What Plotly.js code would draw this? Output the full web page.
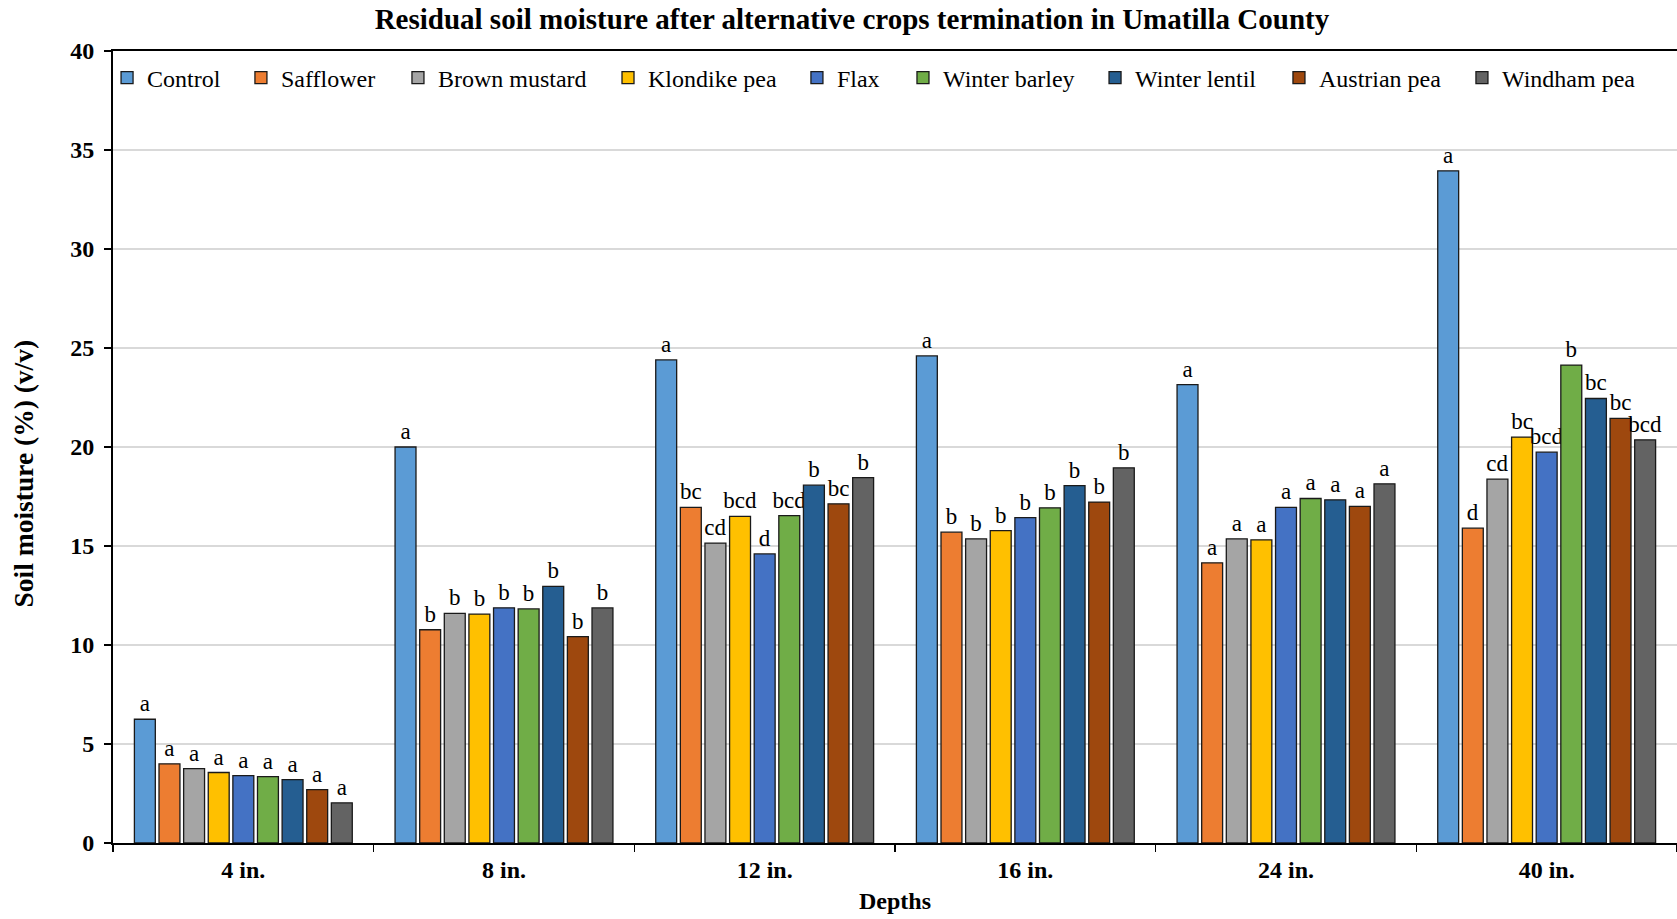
<!DOCTYPE html>
<html>
<head>
<meta charset="utf-8">
<script src="https://cdn.plot.ly/plotly-3.0.1.min.js"></script>
<style>html,body{margin:0;padding:0;background:#fff;}#chart{width:1677px;height:919px;}</style>
</head>
<body>
<div id="chart"></div>
<script>
const depths = ["4 in.", "8 in.", "12 in.", "16 in.", "24 in.", "40 in."];
const crops = ["Control", "Safflower", "Brown mustard", "Klondike pea", "Flax", "Winter barley", "Winter lentil", "Austrian pea", "Windham pea"];
const colors = ["#5B9BD5", "#ED7D31", "#A5A5A5", "#FFC000", "#4472C4", "#70AD47", "#255E91", "#9E480E", "#636363"];

const control      = [6.25, 20.0, 24.4, 24.6, 23.15, 33.95];
const safflower    = [4.0, 10.77, 16.95, 15.7, 14.15, 15.9];
const brownMustard = [3.76, 11.6, 15.15, 15.36, 15.36, 18.38];
const klondikePea  = [3.56, 11.56, 16.5, 15.78, 15.31, 20.5];
const flax         = [3.4, 11.88, 14.6, 16.43, 16.95, 19.74];
const winterBarley = [3.35, 11.82, 16.53, 16.93, 17.4, 24.14];
const winterLentil = [3.2, 12.96, 18.07, 18.05, 17.33, 22.45];
const austrianPea  = [2.7, 10.42, 17.13, 17.22, 17.0, 21.45];
const windhamPea   = [2.03, 11.87, 18.45, 18.95, 18.14, 20.36];

const controlLetters      = ["a", "a", "a", "a", "a", "a"];
const safflowerLetters    = ["a", "b", "bc", "b", "a", "d"];
const brownMustardLetters = ["a", "b", "cd", "b", "a", "cd"];
const klondikePeaLetters  = ["a", "b", "bcd", "b", "a", "bc"];
const flaxLetters         = ["a", "b", "d", "b", "a", "bcd"];
const winterBarleyLetters = ["a", "b", "bcd", "b", "a", "b"];
const winterLentilLetters = ["a", "b", "b", "b", "a", "bc"];
const austrianPeaLetters  = ["a", "b", "bc", "b", "a", "bc"];
const windhamPeaLetters   = ["a", "b", "b", "b", "a", "bcd"];

const values = [control, safflower, brownMustard, klondikePea, flax, winterBarley, winterLentil, austrianPea, windhamPea];
const letters = [controlLetters, safflowerLetters, brownMustardLetters, klondikePeaLetters, flaxLetters, winterBarleyLetters, winterLentilLetters, austrianPeaLetters, windhamPeaLetters];

// horizontal placement of each legend entry (paper fraction)
const legendX = [-0.0038, 0.0818, 0.1822, 0.3165, 0.4373, 0.5051, 0.6279, 0.7455, 0.8625];

const FONT = "Liberation Serif, Times New Roman, serif";

const traces = crops.map((name, i) => ({
  type: "bar",
  name: name,
  x: depths,
  y: values[i],
  text: letters[i],
  textposition: "outside",
  constraintext: "none",
  cliponaxis: false,
  textfont: {family: FONT, size: 23, color: "#000"},
  marker: {color: colors[i], line: {color: "#1a1a1a", width: 1.3}},
  legend: i === 0 ? "legend" : "legend" + (i + 1),
  hoverinfo: "skip"
}));

const layout = {
  width: 1677, height: 919,
  paper_bgcolor: "#fff", plot_bgcolor: "#fff",
  margin: {l: 113, r: 0, t: 51, b: 76},
  font: {family: FONT, color: "#000"},
  title: {text: "<b>Residual soil moisture after alternative crops termination in Umatilla County</b>",
          font: {family: FONT, size: 29, color: "#000"},
          x: 0.508, xanchor: "center", y: 1 - 19/919, yanchor: "middle", yref: "container"},
  barmode: "group",
  bargap: 0.15,
  bargroupgap: 0.15,
  xaxis: {
    type: "category",
    title: {text: "<b>Depths</b>", font: {family: FONT, size: 24, color: "#000"}, standoff: 10},
    tickfont: {family: FONT, size: 24, color: "#000"},
    tickprefix: "<b>", ticksuffix: "</b>",
    showline: true, linecolor: "#000", linewidth: 2, mirror: true,
    ticks: "outside", tickson: "boundaries", ticklen: 7, tickcolor: "#000", tickwidth: 1.5,
    ticklabelstandoff: 4,
    showgrid: false, zeroline: false, fixedrange: true
  },
  yaxis: {
    range: [0, 40], dtick: 5, tick0: 0,
    tickfont: {family: FONT, size: 24, color: "#000"},
    tickprefix: "<b>", ticksuffix: "</b>",
    showline: true, linecolor: "#000", linewidth: 2,
    ticks: "outside", ticklen: 7, tickcolor: "#000", tickwidth: 1.5,
    ticklabelstandoff: 5,
    showgrid: true, gridcolor: "#D9D9D9", gridwidth: 1.3,
    zeroline: false, fixedrange: true
  },
  annotations: [{
    text: "<b>Soil moisture (%) (v/v)</b>", textangle: -90,
    xref: "paper", yref: "paper", x: -0.0572, y: 0.466, xanchor: "center", yanchor: "middle",
    showarrow: false, font: {family: FONT, size: 27.5, color: "#000"}
  }],
  showlegend: true
};

crops.forEach((name, i) => {
  const key = i === 0 ? "legend" : "legend" + (i + 1);
  layout[key] = {
    orientation: "h", x: legendX[i], xanchor: "left", y: 0.9943, yanchor: "top",
    font: {family: FONT, size: 24, color: "#000"},
    bgcolor: "rgba(0,0,0,0)", itemwidth: 30
  };
});

Plotly.newPlot("chart", traces, layout, {displayModeBar: false, staticPlot: true});
</script>
</body>
</html>
